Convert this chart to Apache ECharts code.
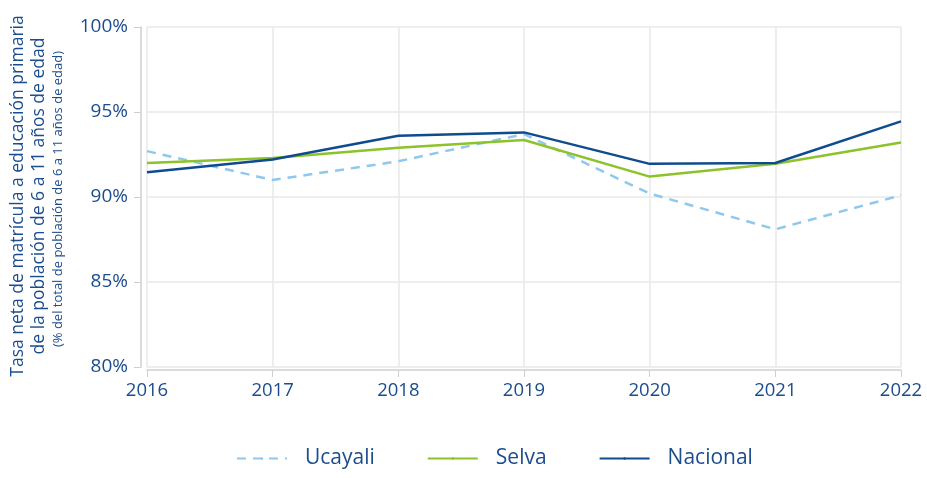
<!DOCTYPE html>
<html>
<head>
<meta charset="utf-8">
<script src="https://cdn.jsdelivr.net/npm/echarts@6/dist/echarts.min.js"></script>
<style>
  html, body { margin: 0; padding: 0; background: #fff; }
  #chart { width: 927px; height: 478px; }
</style>
</head>
<body>
<div id="chart"></div>
<script>
// datos
const years = ["2016", "2017", "2018", "2019", "2020", "2021", "2022"];
const ucayali = [92.7, 91.0, 92.1, 93.7, 90.2, 88.1, 90.1];
const selva = [92.0, 92.3, 92.9, 93.35, 91.2, 91.95, 93.2];
const nacional = [91.45, 92.2, 93.6, 93.8, 91.95, 92.0, 94.45];
const yTicks = [80, 85, 90, 95, 100];

const textColor = "#1b4c8e";
const font = "Open Sans";

const chart = echarts.init(document.getElementById("chart"));

const option = {
  animation: false,
  textStyle: { fontFamily: font },
  grid: { left: 147, right: 26, top: 27, bottom: 111 },
  legend: {
    bottom: 4,
    left: 231,
    itemWidth: 50,
    itemHeight: 3,
    itemGap: 52,
    textStyle: { color: textColor, fontSize: 21, fontFamily: font, padding: [0, 0, 0, 13] },
    data: ["Ucayali", "Selva", "Nacional"]
  },
  xAxis: {
    type: "category",
    data: years,
    boundaryGap: false,
    offset: 3,
    axisLine: { lineStyle: { color: "#cfcfcf", width: 1.5 } },
    axisTick: { show: true, length: 7, lineStyle: { color: "#cfcfcf" } },
    axisLabel: { color: textColor, fontSize: 18.5, margin: 11, fontFamily: font },
    splitLine: { show: true, lineStyle: { color: "#e8e8e8", width: 1.5 } }
  },
  yAxis: {
    type: "value",
    min: yTicks[0],
    max: yTicks[yTicks.length - 1],
    interval: 5,
    offset: 6,
    axisLine: { show: true, lineStyle: { color: "#cfcfcf", width: 1.5 } },
    axisTick: { show: true, length: 7, lineStyle: { color: "#cfcfcf" } },
    axisLabel: { color: textColor, fontSize: 19, margin: 13, formatter: "{value}%", fontFamily: font },
    splitLine: { show: true, lineStyle: { color: "#e8e8e8", width: 1.5 } }
  },
  graphic: [
    {
      type: "text", x: 18, y: 196, rotation: Math.PI / 2,
      style: {
        text: "Tasa neta de matrícula a educación primaria",
        fill: textColor, fontSize: 17.5, fontFamily: font,
        textAlign: "center", textVerticalAlign: "middle"
      }
    },
    {
      type: "text", x: 39, y: 196, rotation: Math.PI / 2,
      style: {
        text: "de la población de 6 a 11 años de edad",
        fill: textColor, fontSize: 17.5, fontFamily: font,
        textAlign: "center", textVerticalAlign: "middle"
      }
    },
    {
      type: "text", x: 58, y: 199, rotation: Math.PI / 2,
      style: {
        text: "(% del total de población de 6 a 11 años de edad)",
        fill: textColor, fontSize: 13, fontFamily: font,
        textAlign: "center", textVerticalAlign: "middle"
      }
    }
  ],
  series: [
    {
      name: "Ucayali",
      type: "line",
      data: ucayali,
      symbol: "none",
      lineStyle: { color: "#8ec8ee", width: 2.5, type: [9, 7] },
      itemStyle: { color: "#8ec8ee" },
      z: 2
    },
    {
      name: "Selva",
      type: "line",
      data: selva,
      symbol: "none",
      lineStyle: { color: "#8dc22a", width: 2.5 },
      itemStyle: { color: "#8dc22a" },
      z: 3
    },
    {
      name: "Nacional",
      type: "line",
      data: nacional,
      symbol: "none",
      lineStyle: { color: "#0f4b8f", width: 2.5 },
      itemStyle: { color: "#0f4b8f" },
      z: 4
    }
  ]
};

chart.setOption(option);
</script>
</body>
</html>
